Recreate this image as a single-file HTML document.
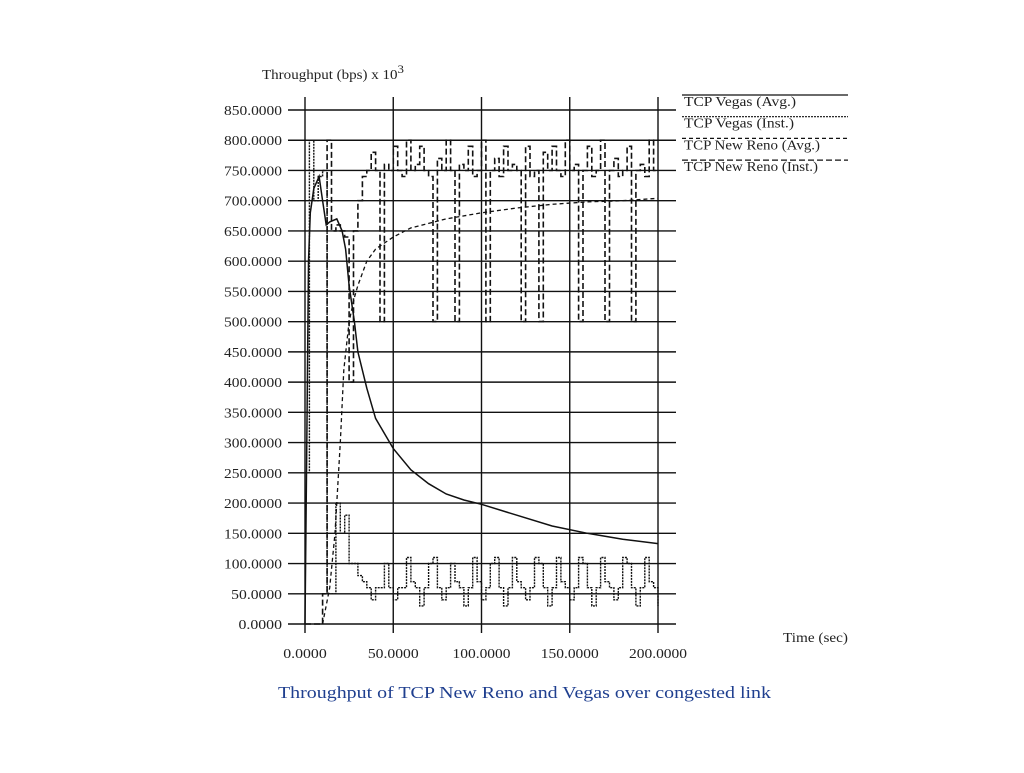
<!DOCTYPE html>
<html><head><meta charset="utf-8"><style>
body{margin:0;background:#fff;width:1024px;height:768px;overflow:hidden;font-family:"Liberation Serif",serif}
</style></head><body>
<svg width="1024" height="768" font-family="Liberation Serif, serif">
<text x="262" y="79" font-size="14" fill="#222" textLength="142" lengthAdjust="spacingAndGlyphs">Throughput (bps) x 10<tspan dy="-6" font-size="12">3</tspan></text>
<text x="783" y="642" font-size="14" fill="#222" textLength="65" lengthAdjust="spacingAndGlyphs">Time (sec)</text>
<text x="278" y="698" font-size="17" fill="#1f3f8f" textLength="493" lengthAdjust="spacingAndGlyphs">Throughput of TCP New Reno and Vegas over congested link</text>
<g id="grid"></g><g id="ticks"></g><g id="series"></g><g id="legend"></g>
</svg>
<script>
const yTicks=[0,50,100,150,200,250,300,350,400,450,500,550,600,650,700,750,800,850];
const xTicks=[0,50,100,150,200];
const vegasAvgT=[0,1,2,3,5,8,10,12,14,18,21,23,25,28,30,35,40,50,60,70,80,90,100,120,140,160,180,200];
const vegasAvgV=[0,300,600,680,720,740,700,660,665,670,650,620,560,500,450,390,340,290,255,232,215,205,198,180,162,150,140,133];
const renoAvgT=[10,14,17,20,22,25,28,30,35,40,50,60,80,100,120,140,160,180,200];
const renoAvgV=[0,60,150,300,420,500,540,560,600,620,640,655,670,680,688,694,698,700,704];
const renoInst=[0,0,0,0,50,800,650,660,650,640,400,650,700,740,750,780,750,500,760,750,790,750,740,800,750,760,790,750,740,500,770,750,800,750,500,760,750,790,740,750,800,500,750,770,740,790,750,760,750,500,790,740,750,500,780,750,790,750,740,800,750,760,500,750,790,740,750,800,500,750,770,740,750,790,500,750,760,740,800,750,750];
const vegasInst=[250,800,700,740,750,50,50,200,150,180,100,100,80,70,60,40,60,60,100,60,40,60,60,110,70,60,30,60,100,110,60,40,60,100,70,60,30,60,110,70,40,60,100,110,60,30,60,110,70,60,40,60,110,100,60,30,60,110,70,60,40,60,110,100,60,30,60,110,70,60,40,60,110,100,60,30,60,110,70,60,30];
const X=t=>305+t*1.765, Y=v=>624-v*0.6047;
const NS='http://www.w3.org/2000/svg';
function mk(tag,attrs,parent){const e=document.createElementNS(NS,tag);for(const k in attrs)e.setAttribute(k,attrs[k]);document.getElementById(parent).appendChild(e);return e;}
yTicks.forEach(v=>{
 const s=v.toFixed(4);
 const l=mk('line',{x1:288,x2:676,y1:Y(v),y2:Y(v),stroke:'#111','stroke-width':1.4},'grid');
 
 
 const t=mk('text',{x:282,y:Y(v)+5,'font-size':14,'text-anchor':'end',fill:'#222',textLength:(s.length*7.25).toFixed(1),lengthAdjust:'spacingAndGlyphs'},'ticks');t.textContent=s;
 
 
});
xTicks.forEach(v=>{
 const s=v.toFixed(4);
 const l=mk('line',{x1:X(v),x2:X(v),y1:97,y2:633,stroke:'#111','stroke-width':1.4},'grid');
 
 
 const t=mk('text',{x:X(v),y:658,'font-size':14,'text-anchor':'middle',fill:'#222',textLength:(s.length*7.25).toFixed(1),lengthAdjust:'spacingAndGlyphs'},'ticks');t.textContent=s;
 
 
});
function line(ts,vs,dash,name,w){const d=ts.map((t,i)=>(i?'L':'M')+X(t).toFixed(1)+','+Y(vs[i]).toFixed(1)).join('');
 const p=mk('path',{d:d,fill:'none',stroke:'#111','stroke-width':w,'stroke-dasharray':dash},'series');
 
 }
function step(vs,dash,name,w){const s=200/(vs.length-1);let d='';vs.forEach((v,i)=>{const x0=X(i*s),x1=X(Math.min(200,(i+1)*s));d+=(i?'L':'M')+x0.toFixed(1)+','+Y(v).toFixed(1)+'L'+x1.toFixed(1)+','+Y(v).toFixed(1);});
 const p=mk('path',{d:d,fill:'none',stroke:'#111','stroke-width':w,'stroke-dasharray':dash},'series');
 
 }
step(renoInst,'6,3','newreno-inst-line',1.6);
step(vegasInst,'2,1','vegas-inst-line',1.4);
line(renoAvgT,renoAvgV,'4,3','newreno-avg-line',1.3);
line(vegasAvgT,vegasAvgV,'','vegas-avg-line',1.5);
const legendLabels=['TCP Vegas (Avg.)','TCP Vegas (Inst.)','TCP New Reno (Avg.)','TCP New Reno (Inst.)'];
const legendDash=['','2,1','4,3','6,3'];
const legendLen=[112,110,136,134];
legendLabels.forEach((s,i)=>{const y=95+i*21.7;
 const l=mk('line',{x1:682,x2:848,y1:y,y2:y,stroke:'#111','stroke-width':1.2,'stroke-dasharray':legendDash[i]},'legend');
 
 
 const t=mk('text',{x:684,y:y+11,'font-size':14,fill:'#222',textLength:legendLen[i],lengthAdjust:'spacingAndGlyphs'},'legend');t.textContent=s;
 
 
});
</script>
</body></html>
